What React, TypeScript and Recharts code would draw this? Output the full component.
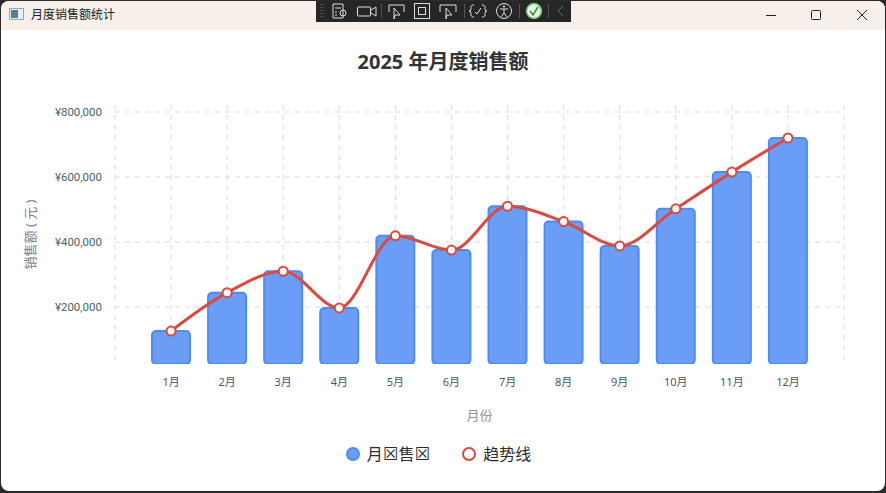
import React from 'react'
import {
  ComposedChart, Bar, Line, XAxis, YAxis, CartesianGrid, Legend,
} from 'recharts'

const months = ['1月', '2月', '3月', '4月', '5月', '6月', '7月', '8月', '9月', '10月', '11月', '12月']
const sales = [126000, 244000, 310000, 197000, 419000, 375000, 510000, 463000, 388000, 502000, 615000, 720000]
const trend = [126000, 244000, 310000, 197000, 419000, 375000, 510000, 463000, 388000, 502000, 615000, 720000]
const yTicks = [200000, 400000, 600000, 800000]
const yDomain = [24600, 821500]

const seriesNames = { sales: '月☒售☒', trend: '趋势线' }

const chartData = months.map((month, i) => ({ month, sales: sales[i], trend: trend[i] }))

const FONT = '"Noto Sans", "Noto Sans CJK SC", sans-serif'
const BAR_FILL = '#6a9ef6'
const BAR_STROKE = '#4f8aef'
const LINE_COLOR = '#db4a3d'

const formatYen = (v: number) => '¥' + v.toLocaleString('en-US')

function ChartLegend() {
  const items = [
    { name: seriesNames.sales, fill: BAR_FILL, stroke: BAR_STROKE },
    { name: seriesNames.trend, fill: '#fff', stroke: LINE_COLOR },
  ]
  return (
    <div style={{ display: 'flex', justifyContent: 'center', gap: 32, paddingRight: 9, fontFamily: FONT, fontSize: 16, color: '#2b2b2b', lineHeight: '20px' }}>
      {items.map((item) => (
        <div key={item.name} style={{ display: 'flex', alignItems: 'center', gap: 7 }}>
          <svg width={14} height={14}>
            <circle cx={7} cy={7} r={6} fill={item.fill} stroke={item.stroke} strokeWidth={2} />
          </svg>
          <span>
            {item.name.split('').map((ch, i) =>
              ch === '☒'
                ? <span key={i} style={{ fontFamily: '"DejaVu Sans"', fontSize: 17.5 }}>{ch}</span>
                : ch
            )}
          </span>
        </div>
      ))}
    </div>
  )
}

function TitleBar() {
  return (
    <div style={{ position: 'absolute', left: 0, top: 0, width: 886, height: 30, background: '#f6efea', fontFamily: FONT }}>
      <svg width={16} height={14} style={{ position: 'absolute', left: 9, top: 8 }}>
        <rect x={0.5} y={0.5} width={14} height={11} fill="#e8eef0" stroke="#9aa8ac" />
        <rect x={2} y={2} width={7} height={8} fill="#4a8490" />
      </svg>
      <span style={{ position: 'absolute', left: 31, top: 7, fontSize: 12, lineHeight: '16px', color: '#222' }}>月度销售额统计</span>
      <svg width={186} height={30} style={{ position: 'absolute', left: 700, top: 0 }} fill="none" stroke="#222" strokeWidth={1}>
        <path d="M66 15.5 H76" />
        <rect x={111.5} y={10.5} width={9} height={9} rx={1} />
        <path d="M157 10 L167 20 M167 10 L157 20" />
      </svg>
    </div>
  )
}

function DebugToolbar() {
  return (
    <svg width={255} height={22} style={{ position: 'absolute', left: 316, top: 0 }} fill="none" stroke="#ddd" strokeWidth={1}>
      <rect x={0} y={0} width={255} height={22} fill="#262626" stroke="none" />
      <path d="M5 4 V18 M7 4 V18" stroke="#666" strokeDasharray="1 2" />
      <path d="M17 4 H27 V18 H17 Z M19 8 H25 M19 12 H21 M19 15 H21" />
      <circle cx={27} cy={13} r={3} />
      <rect x={41.5} y={7} width={13} height={9} rx={1} />
      <path d="M55 10 L60 7 V16 L55 13" />
      <path d="M65.5 4 V18" stroke="#555" />
      <path d="M73 12 V5 H88 V12 M78 8 L84 15 L79 15 L78 19 Z" />
      <rect x={98.5} y={3.5} width={15} height={15} />
      <rect x={102.5} y={7.5} width={7} height={7} />
      <path d="M124 12 V5 H140 V12 M130 8 L136 15 L131 15 L130 19 Z" />
      <path d="M148.5 4 V18" stroke="#555" />
      <path d="M158 5 Q154 5 155 9 Q155 11 153 11 Q155 11 155 13 Q154 17 158 17 M166 5 Q170 5 169 9 Q169 11 171 11 Q169 11 169 13 Q170 17 166 17 M159 12 L161 14 L165 8" />
      <circle cx={188} cy={11} r={7.5} />
      <path d="M184 9 H192 M188 9 V13 L185 17 M188 13 L191 17" />
      <circle cx={188} cy={6.5} r={0.8} />
      <path d="M203.5 4 V18" stroke="#555" />
      <circle cx={218} cy={11} r={7.5} fill="#e6f5e6" stroke="#6cc06c" strokeWidth={1.5} />
      <path d="M214 11 L217 15 L222 7" stroke="#2f8f2f" strokeWidth={1.5} />
      <path d="M232.5 4 V18" stroke="#555" />
      <path d="M247 6 L242 11 L247 16" stroke="#666" />
    </svg>
  )
}

export default function App() {
  return (
    <div style={{ position: 'absolute', left: 0, top: 0, width: 886, height: 493, background: '#2b2b2b', overflow: 'hidden' }}>
      <div style={{ position: 'absolute', left: 1, top: 1, width: 884, height: 490, background: '#fff', borderRadius: 8, overflow: 'hidden' }}>
        <div style={{ position: 'absolute', left: -1, top: -1 }}>
          <TitleBar />
          <DebugToolbar />
          <div style={{ position: 'absolute', left: 0, top: 49, width: 886, textAlign: 'center', fontFamily: FONT, fontWeight: 700, fontSize: 20, lineHeight: '26px', color: '#333' }}>
            2025 年月度销售额
          </div>
          <div style={{ position: 'absolute', left: 0, top: 0 }}>
            <ComposedChart
              width={886}
              height={493}
              data={chartData}
              margin={{ top: 105, right: 42, bottom: 79, left: 20 }}
              style={{ fontFamily: FONT }}
            >
              <CartesianGrid
                stroke="#d8dbdf"
                strokeDasharray="5 5"
                syncWithTicks
                verticalCoordinatesGenerator={({ offset }: any) => {
                  const step = offset.width / (months.length + 1)
                  return [offset.left, ...months.map((_, i) => offset.left + step * (i + 1)), offset.left + offset.width]
                }}
              />
              <XAxis
                dataKey="month"
                interval={0}
                height={30}
                padding={{ left: 28, right: 28 }}
                axisLine={false}
                tickLine={false}
                tickMargin={8}
                tick={{ fontSize: 11, fill: '#4b5563' }}
                label={{ value: '月份', position: 'insideBottom', offset: -26, fontSize: 13, fill: '#8a9199' }}
              />
              <YAxis
                width={95}
                domain={yDomain}
                ticks={yTicks}
                allowDataOverflow
                axisLine={false}
                tickLine={false}
                tickMargin={7}
                tickFormatter={formatYen}
                tick={{ fontSize: 11.5, fill: '#4b6363', fontFamily: 'Roboto, sans-serif' }}
                label={{ value: '销售额 ( 元 )', angle: -90, position: 'insideLeft', offset: 10, fontSize: 13, fill: '#75818e', style: { textAnchor: 'middle' } }}
              />
              <Legend content={<ChartLegend />} wrapperStyle={{ top: 444, left: 0, width: 886 }} />
              <Bar
                dataKey="sales"
                name={seriesNames.sales}
                barSize={38}
                fill={BAR_FILL}
                stroke={BAR_STROKE}
                strokeWidth={2}
                radius={4}
                isAnimationActive={false}
              />
              <Line
                dataKey="trend"
                name={seriesNames.trend}
                type="monotone"
                stroke={LINE_COLOR}
                strokeWidth={3}
                dot={{ r: 4.5, fill: '#fff', stroke: LINE_COLOR, strokeWidth: 2 }}
                isAnimationActive={false}
              />
            </ComposedChart>
          </div>
        </div>
      </div>
    </div>
  )
}
